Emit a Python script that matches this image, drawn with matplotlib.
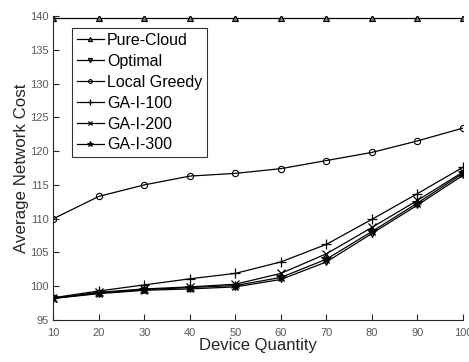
import matplotlib
matplotlib.use("Agg")
import matplotlib.pyplot as plt

plt.rcParams['font.family'] = ['Liberation Sans', 'DejaVu Sans']

devices = [10, 20, 30, 40, 50, 60, 70, 80, 90, 100]

pure_cloud = [139.7] * 10
optimal = [98.2, 98.9, 99.4, 99.6, 99.9, 101.0, 103.6, 107.8, 112.0, 116.4]
local_greedy = [110.0, 113.3, 115.0, 116.3, 116.7, 117.4, 118.6, 119.8, 121.5, 123.4]
ga_100 = [98.3, 99.3, 100.2, 101.1, 101.9, 103.6, 106.2, 109.9, 113.7, 117.6]
ga_200 = [98.2, 99.1, 99.6, 99.9, 100.3, 101.9, 104.8, 108.7, 112.7, 116.9]
ga_300 = [98.2, 99.0, 99.5, 99.8, 100.1, 101.3, 104.0, 108.1, 112.3, 116.7]

fig = plt.figure(figsize=(4.69, 3.62), dpi=100)
ax = fig.add_axes([0.114, 0.116, 0.873, 0.840])

ax.plot(devices, pure_cloud, '-^', color='k', lw=0.9, ms=5,
        mfc='0.45', mec='k', mew=0.8, label='Pure-Cloud')
ax.plot(devices, optimal, '-v', color='k', lw=0.9, ms=5,
        mfc='0.3', mec='k', mew=0.8, label='Optimal')
ax.plot(devices, local_greedy, '-o', color='k', lw=0.9, ms=4.5,
        mfc='none', mec='k', mew=0.8, label='Local Greedy')
ax.plot(devices, ga_100, '-+', color='k', lw=0.9, ms=7, mew=0.9, label='GA-I-100')
ax.plot(devices, ga_200, '-x', color='k', lw=0.9, ms=5.5, mew=0.9, label='GA-I-200')
ax.plot(devices, ga_300, '-*', color='k', lw=0.9, ms=7, mew=0.6, label='GA-I-300')

ax.set_xlim(10, 100)
ax.set_ylim(95, 140)
ax.set_xticks(devices)
ax.set_yticks(range(95, 141, 5))

for side in ('top', 'right'):
    ax.spines[side].set_visible(False)
for side in ('left', 'bottom'):
    ax.spines[side].set_color('0.15')
    ax.spines[side].set_linewidth(0.8)
ax.tick_params(direction='in', length=4, width=0.8, colors='0.15',
               labelsize=8, labelcolor='0.35')
ax.tick_params(axis='x', pad=6)

ax.set_xlabel('Device Quantity', fontsize=12, color='0.15', labelpad=0)
ax.set_ylabel('Average Network Cost', fontsize=12.2, color='0.15', labelpad=1)

leg = ax.legend(loc='upper left', bbox_to_anchor=(0.045, 0.96), fontsize=11.5,
                frameon=True, fancybox=False, edgecolor='k', handlelength=1.7,
                handletextpad=0.2, labelspacing=0.37, borderpad=0.3,
                borderaxespad=0, markerscale=0.6)
leg.get_frame().set_linewidth(0.8)

fig.savefig('out.png', dpi=100)
